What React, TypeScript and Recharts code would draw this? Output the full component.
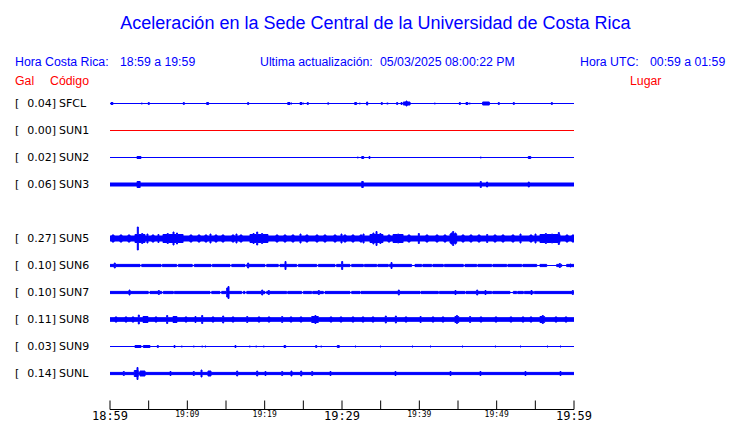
import React from 'react'
import { ComposedChart, Area, XAxis, YAxis } from 'recharts'

// station table (top to bottom)
const codes = ['SFCL', 'SUN1', 'SUN2', 'SUN3', 'SUN5', 'SUN6', 'SUN7', 'SUN8', 'SUN9', 'SUNL']
const gal = [0.04, 0.0, 0.02, 0.06, 0.27, 0.1, 0.1, 0.11, 0.03, 0.14]
const places = [
  'Finca El Corralillo, Coronado',
  'CIMAR',
  'Ingenieria P01',
  'Ingenieria P06',
  'Rectoria',
  'Agroalimentarias',
  'Archivo',
  'Electrica P06',
  'Electrica P01',
  'LANAMME-CTT',
]
const rows = [0, 1, 2, 3, 5, 6, 7, 8, 9, 10]
const traceColors = ['#0000ff', '#ff0000', '#0000ff', '#0000ff', '#0000ff', '#0000ff', '#0000ff', '#0000ff', '#0000ff', '#0000ff']

// quiet-level amplitude of each trace
const baseAmp = [0, 0, 0, 2, 3, 1.6, 1.6, 2.3, 0, 1.6]

// x axis: minutes after 18:59
const tickMinutes = [0, 5, 10, 15, 20, 25, 30, 35, 40, 45, 50, 55, 60]
const tickLabels = ['18:59', '', '19:09', '', '19:19', '', '19:29', '', '19:39', '', '19:49', '', '19:59']
const bigTicks = ['18:59', '19:29', '19:59']

// bursts: [minute, amplitude, duration in minutes]
type Burst = [number, number, number?]

const sfclBursts: Burst[] = [
  [0.13, 1.5, 0.25], [4.05, 1], [4.95, 1.5], [9.48, 1.5], [12.5, 1.5, 0.25], [17.8, 1.5],
  [22.98, 1.5, 0.3], [23.4, 1], [24.57, 1.5, 0.25], [24.92, 1], [25.51, 1.5], [28.15, 1.2],
  [31.64, 1.5, 0.25], [32.24, 1], [33.19, 2], [35.08, 1.5], [35.78, 1, 0.2], [37.07, 1.5],
  [37.63, 1.5], [37.93, 2, 0.87], [38.28, 3], [41.94, 1], [45.17, 1.5], [46.03, 1.5, 0.25],
  [46.46, 1], [48.19, 2, 0.86], [50.21, 1.5], [52.15, 1.5], [57.07, 1.5],
]
const sun1Bursts: Burst[] = []
const sun2Bursts: Burst[] = [
  [3.49, 1.5, 0.52], [31.98, 1], [32.55, 1.5, 0.26], [33.49, 1.5], [47.88, 1], [54.09, 1.5, 0.32],
]
const sun3Bursts: Burst[] = [
  [3.5, 3.5, 0.4], [32.55, 3.5, 0.2], [47.88, 3.5], [48.7, 3], [54.09, 3],
]
const sun5Bursts: Burst[] = [
  [0.26, 4, 0.26], [1.29, 4, 0.26], [2.33, 4, 0.26], [3.23, 4.5, 1.3], [3.53, 12], [4.1, 5.5],
  [4.78, 5], [5.43, 4, 0.26], [6.2, 4.5], [6.85, 4.5, 2.6], [7.4, 5.5], [8.15, 7], [8.6, 6],
  [10.34, 4, 0.26], [11.38, 4, 0.26], [12.28, 4, 0.26], [12.93, 5], [13.58, 4, 0.26],
  [14.48, 4, 0.26], [15.78, 4, 0.26], [16.29, 5], [16.81, 4, 0.26], [18.1, 4.5, 2.33], [18.5, 5.5],
  [18.97, 7], [19.6, 5.5], [21.47, 4, 0.26], [22.5, 4, 0.26], [23.53, 4, 0.26], [24.57, 5],
  [25.34, 4, 0.26], [26.64, 4, 0.26], [27.67, 4, 0.26], [28.97, 4, 0.26], [29.87, 5],
  [30.26, 4, 0.26], [31.29, 4, 0.26], [32.33, 4, 0.26], [32.72, 5], [33.62, 4.5, 1.68], [34.0, 6],
  [34.4, 7.5], [34.9, 5.5], [35.95, 4, 0.26], [36.6, 4.5, 1.3], [37.2, 5], [38.53, 4, 0.26],
  [39.87, 5.5], [40.86, 4, 0.26], [42.16, 4, 0.26], [43.19, 4, 0.26], [43.97, 5, 0.86], [44.1, 6],
  [44.31, 7.5], [44.6, 6], [45.52, 4, 0.26], [46.55, 4, 0.26], [47.59, 4, 0.26], [48.71, 4.5],
  [49.66, 4, 0.26], [50.69, 4, 0.26], [51.98, 4, 0.26], [53.02, 5], [54.31, 4, 0.26], [54.96, 5],
  [55.6, 4.5, 2.59], [56.3, 5.5], [57.1, 5], [57.97, 6.5], [58.97, 4, 0.26], [59.74, 4, 0.26],
]
const sun6Bursts: Burst[] = [
  [0.55, 3], [17.8, 3], [22.63, 4.5], [29.96, 4.5], [36.34, 3.5], [58.1, 2.5], [59.48, 2],
]
const sun7Bursts: Burst[] = [
  [2.46, 3], [6.25, 2.5], [15.09, 5, 0.3], [15.26, 6.5], [19.62, 3], [20.47, 2.5], [26.94, 2.5],
  [37.28, 3], [44.61, 2.5], [47.42, 3], [48.49, 2.5], [54.44, 2.5], [59.78, 2.5],
]
const sun8Bursts: Burst[] = [
  [0.65, 3, 0.26], [1.94, 3, 0.26], [2.84, 3, 0.26], [3.66, 5], [4.27, 3.5, 0.64], [5.82, 3, 0.26],
  [7.33, 4.5], [8.15, 3.5, 0.51], [9.7, 3, 0.26], [10.99, 3.5], [11.86, 4.5], [13.19, 3, 0.26],
  [14.57, 4], [15.78, 3, 0.26], [17.68, 3.5], [19.14, 3, 0.26], [20.43, 3, 0.26], [22.2, 3.5],
  [23.28, 3, 0.26], [24.57, 3, 0.26], [26.08, 3.5, 0.86], [26.5, 4.5], [28.45, 3, 0.26],
  [29.74, 3, 0.26], [31.29, 3, 0.26], [32.59, 3, 0.26], [33.88, 3, 0.26], [35.6, 4], [36.9, 4],
  [38.15, 3, 0.26], [40.1, 3.5], [41.64, 3, 0.26], [42.93, 3, 0.26], [44.6, 3.5, 0.5], [44.8, 4.5],
  [46.5, 3.5], [47.84, 3, 0.26], [49.78, 3, 0.26], [51.72, 3, 0.26], [53.28, 3, 0.26],
  [54.31, 3, 0.26], [55.6, 3.5, 0.6], [55.9, 4.5], [57.54, 3, 0.26], [58.84, 3, 0.26],
]
const sun9Bursts: Burst[] = [
  [3.23, 1.5, 0.78], [4.31, 1.5, 0.86], [6.12, 1.5], [8.28, 1.5], [9.22, 1], [10.77, 1], [11.86, 1],
  [12.28, 1], [16.16, 1.5], [18.01, 1], [18.84, 1], [19.82, 1], [22.5, 1.5, 0.22], [26.6, 1.5],
  [27.25, 1], [29.39, 1.5, 0.26], [31.68, 1], [34.91, 1], [39.05, 1], [41.38, 1], [45.52, 1],
  [49.78, 1], [53.02, 1], [56.51, 1], [58.19, 1],
]
const sunlBursts: Burst[] = [
  [1.72, 2.5], [3.14, 3.5, 0.52], [3.49, 6.5], [3.88, 3, 0.65], [7.76, 2.5], [10.77, 2.5],
  [11.77, 4], [12.67, 3, 0.39], [16.38, 3], [18.97, 3], [20.04, 2.5], [22.2, 2.5], [23.4, 3],
  [24.66, 3], [26.08, 2.5], [28.45, 2.5], [36.85, 2.5], [43.97, 2.5], [47.84, 2.5], [53.66, 2.5],
  [58.19, 2.5],
]
const bursts = [sfclBursts, sun1Bursts, sun2Bursts, sun3Bursts, sun5Bursts, sun6Bursts, sun7Bursts, sun8Bursts, sun9Bursts, sunlBursts]

// quiet stretches where the trace drops to a plain line: [minute, duration]
const sun6Quiet: [number, number][] = [
  [3.88, 0.22], [6.6, 0.16], [8.62, 0.21], [10.64, 0.26], [13.06, 0.17], [15.52, 0.22], [17.46, 0.22],
  [20.04, 0.22], [21.76, 0.22], [24.14, 0.21], [26.73, 0.21], [29.1, 0.2], [31.03, 0.22], [32.76, 0.15],
  [34.49, 0.15], [35.99, 0.15], [39.0, 0.44], [40.3, 0.15], [41.6, 0.15], [43.1, 0.15], [45.69, 0.21],
  [47.42, 0.15], [49.36, 0.15], [51.3, 0.15], [53.24, 0.15], [55.18, 0.42], [56.47, 1.29], [58.41, 0.64],
]
const sun7Quiet: [number, number][] = [
  [4.95, 0.22], [6.69, 0.2], [8.19, 0.13], [12.93, 0.22], [14.22, 0.22], [17.03, 0.21], [17.46, 0.22],
  [20.04, 0.22], [22.85, 0.13], [24.79, 0.21], [26.08, 0.13], [27.59, 0.21], [31.03, 0.22], [32.33, 0.13],
  [40.09, 0.13], [42.46, 0.13], [45.9, 0.13], [49.36, 0.13], [51.72, 0.43], [52.59, 0.13], [53.45, 0.13],
  [54.74, 0.13],
]
const quiet: [number, number][][] = [[], [], [], [], [], sun6Quiet, sun7Quiet, [], [], []]

const PX = 60 / 464 // one screen pixel of time
const ROW = 27 // amplitude units per row

function buildTrace(i: number) {
  const row = rows[i]
  const ev = bursts[i].map(([m, a, w = PX]) => ({ s: m, e: m + w, a }))
  const q = quiet[i].map(([m, w]) => ({ s: m, e: m + w }))
  const cuts = new Set<number>([0, 60])
  ev.forEach((b) => { cuts.add(Math.max(0, b.s)); cuts.add(Math.min(60, b.e)) })
  q.forEach((b) => { cuts.add(b.s); cuts.add(Math.min(60, b.e)) })
  const xs = Array.from(cuts).sort((a, b) => a - b)
  const out: { t: number; range: [number, number] }[] = []
  for (let k = 0; k < xs.length - 1; k++) {
    const mid = (xs[k] + xs[k + 1]) / 2
    const hit = ev.filter((b) => b.s <= mid && mid < b.e)
    let v = baseAmp[i]
    if (hit.length) v = Math.max(v, ...hit.map((b) => b.a))
    else if (q.some((b) => b.s <= mid && mid < b.e)) v = 0
    // the 1px outline already adds half a pixel each side
    const h = Math.max(0, v - 0.5) / ROW
    const r: [number, number] = [row - h, row + h]
    out.push({ t: xs[k], range: r }, { t: xs[k + 1], range: r })
  }
  return out
}

function LeftTick({ y, payload }: any) {
  const i = rows.indexOf(payload.value)
  if (i < 0) return null
  return (
    <g fontFamily="DejaVu Sans" fontSize={11} fill="#000">
      <text x={15} y={y + 3.5}>[</text>
      <text x={56} y={y + 3.5} textAnchor="end">{gal[i].toFixed(2)}]</text>
      <text x={59} y={y + 3.5}>{codes[i]}</text>
    </g>
  )
}

function RightTick({ y, payload }: any) {
  const i = rows.indexOf(payload.value)
  if (i < 0) return null
  return (
    <text x={587} y={y + 3.5} fontFamily="DejaVu Sans" fontSize={10.3} fill="#000">
      {places[i]}
    </text>
  )
}

function TimeTick({ x, y, payload }: any) {
  const label = tickLabels[tickMinutes.indexOf(payload.value)] || ''
  const big = bigTicks.includes(label)
  return (
    <g>
      <line x1={x} x2={x} y1={y - 9} y2={y} stroke="#000" />
      {label && (
        <text
          x={x}
          y={y + (big ? 10 : 7.5)}
          textAnchor="middle"
          fontFamily="DejaVu Sans Mono"
          fontSize={big ? 12 : 8}
          fill="#000"
        >
          {label}
        </text>
      )}
    </g>
  )
}

const head = { fontFamily: 'Liberation Sans, Arial, sans-serif', fontSize: 12.3 }

export default function App() {
  return (
    <div style={{ position: 'absolute', left: 0, top: 0, width: 740, height: 423, background: '#fff' }}>
      <ComposedChart width={740} height={423} margin={{ top: 90, right: 0, bottom: 0, left: 0 }}>
        <XAxis
          type="number"
          dataKey="t"
          domain={[0, 60]}
          ticks={tickMinutes}
          interval={0}
          height={13.5}
          tickSize={0}
          tickMargin={0}
          tickLine={false}
          axisLine={{ stroke: '#000' }}
          tick={<TimeTick />}
        />
        <YAxis
          yAxisId="left"
          type="number"
          domain={[-0.5, 11 + 1 / 3]}
          reversed
          ticks={rows}
          interval={0}
          width={110}
          axisLine={false}
          tickLine={false}
          tick={<LeftTick />}
        />
        <YAxis
          yAxisId="right"
          orientation="right"
          type="number"
          domain={[-0.5, 11 + 1 / 3]}
          reversed
          ticks={rows}
          interval={0}
          width={166}
          axisLine={false}
          tickLine={false}
          tick={<RightTick />}
        />
        {codes.map((c, i) => (
          <Area
            key={c}
            yAxisId="left"
            data={buildTrace(i)}
            dataKey="range"
            type="linear"
            stroke={traceColors[i]}
            strokeWidth={1}
            fill={traceColors[i]}
            fillOpacity={1}
            dot={false}
            activeDot={false}
            isAnimationActive={false}
          />
        ))}
      </ComposedChart>
      <svg width={740} height={423} style={{ position: 'absolute', left: 0, top: 0, pointerEvents: 'none' }}>
        <text x={375.5} y={29} textAnchor="middle" fontFamily="Liberation Sans, Arial, sans-serif" fontSize={18} fill="#0000ff">
          Aceleración en la Sede Central de la Universidad de Costa Rica
        </text>
        <g {...head} fill="#0000ff">
          <text x={15} y={66}>Hora Costa Rica:</text>
          <text x={120} y={66}>18:59 a 19:59</text>
          <text x={260} y={66}>Ultima actualización:</text>
          <text x={380} y={66}>05/03/2025 08:00:22 PM</text>
          <text x={580} y={66}>Hora UTC:</text>
          <text x={650} y={66}>00:59 a 01:59</text>
        </g>
        <g {...head} fill="#ff0000">
          <text x={15} y={85}>Gal</text>
          <text x={50} y={85}>Código</text>
          <text x={630} y={85}>Lugar</text>
        </g>
      </svg>
    </div>
  )
}
